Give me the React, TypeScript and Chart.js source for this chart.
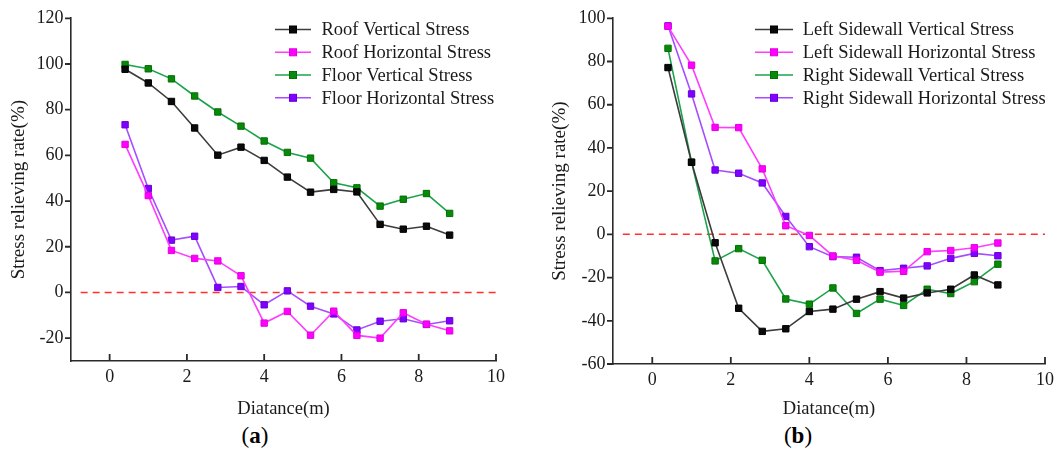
import { useEffect, useRef } from "react";
import { Chart, registerables } from "chart.js";

Chart.register(...registerables);

// Distance from the opening (m)
const distance = [0.4, 1.0, 1.6, 2.2, 2.8, 3.4, 4.0, 4.6, 5.2, 5.8, 6.4, 7.0, 7.6, 8.2, 8.8];

// (a) roof and floor stress relieving rate (%)
const roofVertical = [97.7, 91.7, 83.6, 72, 60.1, 63.6, 57.8, 50.5, 43.9, 45.1, 44, 29.8, 27.7, 29, 25.1];
const roofHorizontal = [64.8, 42.4, 18.4, 14.9, 13.8, 7.3, -13.4, -8.3, -18.7, -8.2, -18.8, -20, -8.9, -13.9, -16.8];
const floorVertical = [99.8, 97.9, 93.5, 86, 79, 72.8, 66.3, 61.3, 58.8, 48, 45.8, 37.8, 40.8, 43.3, 34.6];
const floorHorizontal = [73.4, 45.5, 22.9, 24.6, 2.2, 2.6, -5.4, 0.7, -6, -9.4, -16.4, -12.6, -11.5, -14, -12.4];

// (b) sidewall stress relieving rate (%)
const leftVertical = [77.2, 33.4, -3.9, -34.2, -44.9, -43.7, -35.7, -34.6, -30, -26.5, -29.5, -27.1, -25.4, -18.8, -23.4];
const leftHorizontal = [96.3, 78.3, 49.5, 49.4, 30.3, 4, -0.5, -10, -12, -17.5, -17.1, -8, -7.5, -6.2, -4];
const rightVertical = [86.1, 33.4, -12.3, -6.6, -12, -29.9, -32.3, -24.8, -36.6, -30, -32.9, -25.4, -27.4, -21.9, -13.8];
const rightHorizontal = [96.5, 65, 29.8, 28.3, 23.8, 8.3, -5.7, -10.3, -10.6, -16.8, -15.7, -14.6, -11.1, -8.8, -9.9];

// Axis ticks
const xTicks = [0, 2, 4, 6, 8, 10];
const yTicksA = [-20, 0, 20, 40, 60, 80, 100, 120];
const yTicksB = [-60, -40, -20, 0, 20, 40, 60, 80, 100];

// Reference line at zero relief
const zeroLineX = [-0.75, 10];

const namesA = ["Roof Vertical Stress", "Roof Horizontal Stress", "Floor Vertical Stress", "Floor Horizontal Stress"];
const namesB = [
  "Left Sidewall Vertical Stress",
  "Left Sidewall Horizontal Stress",
  "Right Sidewall Vertical Stress",
  "Right Sidewall Horizontal Stress",
];

const SERIF = "'Liberation Serif', 'Times New Roman', serif";
const INK = "#1a1a1a";
const AXIS = "#2a2a2a";

const palette = [
  { marker: "#0a0a0a", edge: "#000000", line: "#3c3c3c" },
  { marker: "#ff00ff", edge: "#e000e0", line: "#ff3cff" },
  { marker: "#078a07", edge: "#056e05", line: "#1aa34a" },
  { marker: "#8000ff", edge: "#6a00d8", line: "#a64dff" },
];

type PanelSpec = {
  names: string[];
  series: number[][];
  yMin: number;
  yMax: number;
  yTicks: number[];
  padding: { left: number; right: number; top: number; bottom: number };
  yAxisWidth: number;
  xAxisHeight: number;
  yTitlePad: number;
  xTitlePad: number;
  legend: { lineStart: number; lineEnd: number; textX: number; rows: number[] };
};

// Tick marks: outward on the value axis, inward on the distance axis
function tickMarkPlugin(spec: PanelSpec) {
  return {
    id: "tickMarks",
    afterDraw(chart: any) {
      const ctx: CanvasRenderingContext2D = chart.ctx;
      const area = chart.chartArea;
      const xs = chart.scales.x;
      const ys = chart.scales.y;
      ctx.save();
      ctx.strokeStyle = AXIS;
      ctx.lineWidth = 1.8;
      ctx.setLineDash([]);
      ctx.beginPath();
      xTicks.forEach((v) => {
        const px = xs.getPixelForValue(v);
        ctx.moveTo(px, area.bottom);
        ctx.lineTo(px, area.bottom - 7);
      });
      spec.yTicks.forEach((v) => {
        const py = ys.getPixelForValue(v);
        ctx.moveTo(area.left, py);
        ctx.lineTo(area.left - 6, py);
      });
      ctx.stroke();
      ctx.restore();
    },
  };
}

function legendPlugin(spec: PanelSpec) {
  return {
    id: "seriesLegend",
    afterDraw(chart: Chart) {
      const ctx = chart.ctx;
      const { lineStart, lineEnd, textX, rows } = spec.legend;
      ctx.save();
      spec.names.forEach((name, i) => {
        const y = rows[i];
        const c = palette[i];
        ctx.strokeStyle = c.line;
        ctx.lineWidth = 1.6;
        ctx.beginPath();
        ctx.moveTo(lineStart, y);
        ctx.lineTo(lineEnd, y);
        ctx.stroke();
        const mx = (lineStart + lineEnd) / 2;
        ctx.fillStyle = c.marker;
        ctx.fillRect(mx - 3.5, y - 3.5, 7, 7);
        ctx.strokeStyle = c.edge;
        ctx.lineWidth = 1;
        ctx.strokeRect(mx - 3.5, y - 3.5, 7, 7);
        ctx.fillStyle = INK;
        ctx.font = `18.5px ${SERIF}`;
        ctx.textBaseline = "middle";
        ctx.textAlign = "left";
        ctx.fillText(name, textX, y + 1);
      });
      ctx.restore();
    },
  };
}

function buildConfig(spec: PanelSpec): any {
  const datasets: any[] = spec.series.map((vals, i) => ({
    label: spec.names[i],
    data: distance.map((x, k) => ({ x, y: vals[k] })),
    borderColor: palette[i].line,
    backgroundColor: palette[i].marker,
    borderWidth: 1.6,
    pointStyle: "rect",
    pointRadius: 4.5,
    pointBackgroundColor: palette[i].marker,
    pointBorderColor: palette[i].edge,
    pointBorderWidth: 1,
    tension: 0,
  }));
  datasets.push({
    label: "zero",
    data: zeroLineX.map((x) => ({ x, y: 0 })),
    borderColor: "#ff3030",
    borderWidth: 1.5,
    borderDash: [7, 5],
    pointRadius: 0,
  });

  return {
    type: "line",
    data: { datasets },
    plugins: [tickMarkPlugin(spec), legendPlugin(spec)],
    options: {
      responsive: false,
      animation: false,
      layout: { padding: spec.padding },
      plugins: { legend: { display: false }, tooltip: { enabled: false } },
      scales: {
        x: {
          type: "linear",
          min: -1,
          max: 10,
          afterBuildTicks: (s: any) => {
            s.ticks = xTicks.map((v) => ({ value: v }));
          },
          afterFit: (s: any) => {
            s.height = spec.xAxisHeight;
          },
          grid: { display: false, drawTicks: false },
          border: { display: true, color: AXIS, width: 1.6 },
          ticks: { color: INK, font: { family: SERIF, size: 18 }, padding: 5, maxRotation: 0 },
          title: {
            display: true,
            text: "Diatance(m)",
            color: INK,
            font: { family: SERIF, size: 18.5 },
            padding: { top: spec.xTitlePad, bottom: 0 },
          },
        },
        y: {
          type: "linear",
          min: spec.yMin,
          max: spec.yMax,
          afterBuildTicks: (s: any) => {
            s.ticks = spec.yTicks.map((v) => ({ value: v }));
          },
          afterFit: (s: any) => {
            s.width = spec.yAxisWidth;
          },
          grid: { display: false, drawTicks: false },
          border: { display: true, color: AXIS, width: 1.6 },
          ticks: { color: INK, font: { family: SERIF, size: 18 }, padding: 7.5 },
          title: {
            display: true,
            text: "Stress relieving rate(%)",
            color: INK,
            font: { family: SERIF, size: 19 },
            padding: { top: spec.yTitlePad, bottom: 0 },
          },
        },
      },
    },
  };
}

const panelA: PanelSpec = {
  names: namesA,
  series: [roofVertical, roofHorizontal, floorVertical, floorHorizontal],
  yMin: -30,
  yMax: 120,
  yTicks: yTicksA,
  padding: { left: 0, right: 34, top: 18, bottom: 0 },
  yAxisWidth: 71,
  xAxisHeight: 59,
  yTitlePad: 7.5,
  xTitlePad: 9.7,
  legend: { lineStart: 275, lineEnd: 311, textX: 321.5, rows: [29.5, 52.3, 75, 97.8] },
};

const panelB: PanelSpec = {
  names: namesB,
  series: [leftVertical, leftHorizontal, rightVertical, rightHorizontal],
  yMin: -60,
  yMax: 100,
  yTicks: yTicksB,
  padding: { left: 0, right: 25, top: 18, bottom: 0 },
  yAxisWidth: 83,
  xAxisHeight: 56,
  yTitlePad: 19,
  xTitlePad: 8.7,
  legend: { lineStart: 225, lineEnd: 263, textX: 272.7, rows: [29.5, 52.3, 75, 97.8] },
};

function Panel({ spec, left, width }: { spec: PanelSpec; left: number; width: number }) {
  const ref = useRef<HTMLCanvasElement | null>(null);
  useEffect(() => {
    if (!ref.current) return;
    const chart = new Chart(ref.current, buildConfig(spec));
    return () => chart.destroy();
  }, [spec]);
  return (
    <canvas
      ref={ref}
      width={width}
      height={420}
      style={{ position: "absolute", left, top: 0, width, height: 420 }}
    />
  );
}

function Caption({ letter, centerX }: { letter: string; centerX: number }) {
  return (
    <div
      style={{
        position: "absolute",
        left: centerX - 50,
        top: 436 - 12,
        width: 100,
        textAlign: "center",
        fontFamily: SERIF,
        fontSize: 23,
        lineHeight: "24px",
        color: "#000",
      }}
    >
      (<b>{letter}</b>)
    </div>
  );
}

export default function App() {
  useEffect(() => {
    document.body.style.margin = "0";
  }, []);
  return (
    <div style={{ position: "relative", width: 1056, height: 452, background: "#fff", overflow: "hidden" }}>
      <Panel spec={panelA} left={0} width={530} />
      <Panel spec={panelB} left={530} width={540} />
      <Caption letter="a" centerX={255} />
      <Caption letter="b" centerX={798} />
    </div>
  );
}
